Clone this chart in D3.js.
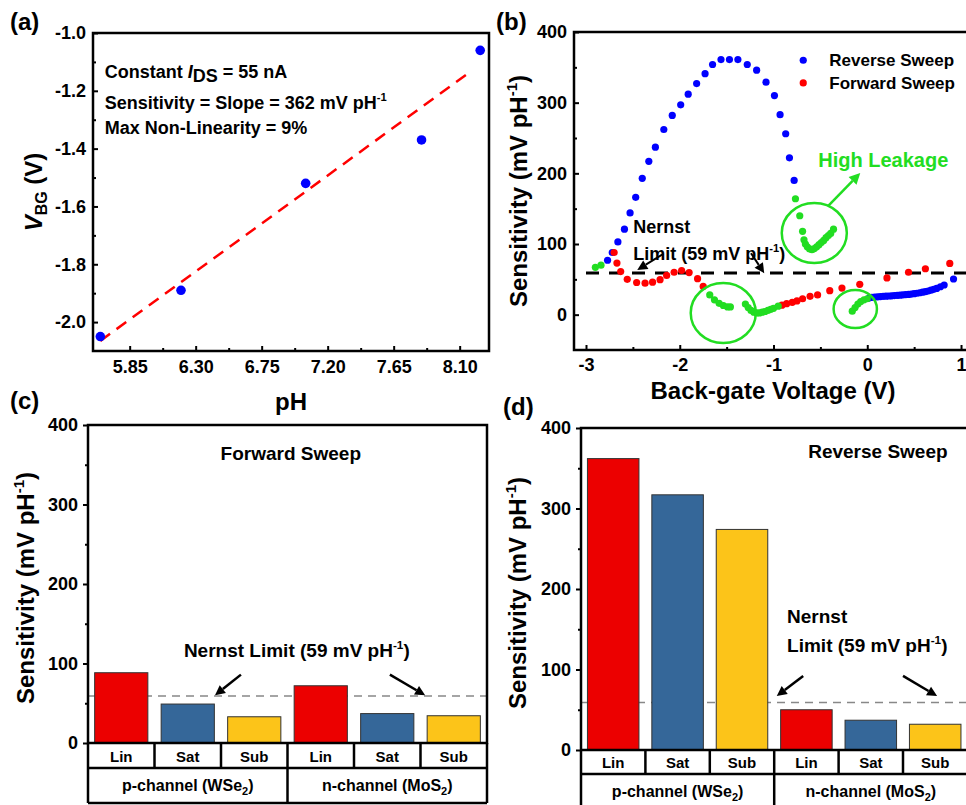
<!DOCTYPE html>
<html>
<head>
<meta charset="utf-8">
<script src="https://cdn.jsdelivr.net/npm/d3@7"></script>
<style>
  body { margin: 0; background: #fff; }
  svg text { font-family: "Liberation Sans", Arial, Helvetica, sans-serif; font-weight: bold; }
</style>
</head>
<body>
<div id="chart"></div>
<script>
// ---------- data: panel (a) ----------
const phValues = [5.65, 6.20, 7.05, 7.84, 8.24];
const vbgValues = [-2.05, -1.89, -1.52, -1.37, -1.06];
const fitPH = [5.65, 8.17];
const fitVBG = [-2.065, -1.135];
const phTicks = [5.85, 6.30, 6.75, 7.20, 7.65, 8.10];
const vbgTicks = [-2.0, -1.8, -1.6, -1.4, -1.2, -1.0];

// ---------- data: panel (b) ----------
const reverseSweep = [
  [-2.77, 77], [-2.72, 88], [-2.66, 103], [-2.59, 121], [-2.53, 144], [-2.47, 166],
  [-2.40, 193], [-2.33, 217], [-2.26, 237], [-2.17, 262], [-2.08, 282], [-1.99, 297],
  [-1.91, 312], [-1.82, 327], [-1.73, 341], [-1.65, 354], [-1.56, 361], [-1.47, 361],
  [-1.38, 361], [-1.28, 354], [-1.18, 346], [-1.08, 329], [-0.99, 310], [-0.93, 283],
  [-0.87, 256], [-0.83, 222], [-0.78, 190],
  [0.02, 23.5], [0.05, 24.5], [0.08, 25], [0.11, 25.3], [0.14, 25.6], [0.17, 26],
  [0.20, 26.2], [0.23, 26.4], [0.26, 26.7], [0.29, 27], [0.32, 27.3], [0.35, 27.6],
  [0.38, 28], [0.41, 28.3], [0.44, 28.7], [0.47, 29.2], [0.50, 29.7], [0.53, 30.3],
  [0.56, 31], [0.59, 31.8], [0.62, 32.6], [0.65, 33.5], [0.68, 34.6], [0.71, 35.8],
  [0.74, 37.2], [0.78, 39.5], [0.82, 42], [0.92, 50.5]
];
const forwardSweep = [
  [-2.70, 88], [-2.67, 73], [-2.63, 61], [-2.56, 50], [-2.46, 45.5], [-2.37, 44.5],
  [-2.29, 46], [-2.21, 49.5], [-2.14, 55.5], [-2.06, 60], [-1.98, 62.5], [-1.90, 59.5],
  [-1.81, 51], [-1.75, 40],
  [-0.91, 13.5], [-0.86, 15.5], [-0.80, 17.5], [-0.75, 19.5], [-0.69, 22.5], [-0.61, 26],
  [-0.53, 28], [-0.40, 34], [-0.27, 37.7], [-0.08, 43], [0.21, 52], [0.44, 60],
  [0.62, 65], [0.88, 72.5]
];
const leakagePoints = [
  [-2.90, 67], [-2.84, 70],
  [-0.766, 164], [-0.72, 140], [-0.69, 118], [-0.675, 106], [-0.66, 100], [-0.64, 96],
  [-0.615, 93], [-0.59, 92], [-0.565, 93.5], [-0.54, 96], [-0.515, 99], [-0.49, 102],
  [-0.465, 105], [-0.44, 109], [-0.415, 112], [-0.39, 115], [-0.36, 121],
  [-1.68, 28], [-1.63, 21], [-1.58, 16], [-1.535, 13], [-1.49, 11], [-1.46, 11],
  [-1.30, 15], [-1.27, 10], [-1.24, 6], [-1.21, 3.5], [-1.18, 2.5], [-1.15, 2.5],
  [-1.12, 3.5], [-1.09, 4.5], [-1.06, 6], [-1.03, 7.5], [-1.00, 9], [-0.95, 12],
  [-0.16, 5], [-0.13, 10], [-0.10, 15], [-0.07, 18.5], [-0.035, 21], [0.0, 22.5]
];
const voltTicks = [-3, -2, -1, 0, 1];
const sensTicksB = [0, 100, 200, 300, 400];
const nernstLimit = 59;
// leakage circles: centre voltage, centre sensitivity, half-width (V), half-height (mV/pH)
const leakCircles = [[-0.565, 115.6, 0.347, 42.5], [-1.536, 2.4, 0.347, 42.5], [-0.128, 8, 0.231, 27]];

// ---------- data: panels (c) and (d) ----------
const regimes = ['Lin', 'Sat', 'Sub'];
const channels = [['p-channel (WSe', '2', ')'], ['n-channel (MoS', '2', ')']];
const forwardBars = [88.4, 49, 33, 72, 37, 34.3];
const reverseBars = [362, 317, 274, 50, 37, 32];
const barTicks = [0, 100, 200, 300, 400];
const barColors = ['#ec0000', '#356799', '#fcc419'];

const blue = '#0000ff', red = '#ff0000', green = '#22dd22';

const svg = d3.select('#chart').append('svg')
  .attr('width', 966)
  .attr('height', 805);

// ---------- helpers ----------
function txt(g, x, y, size, anchor, fill) {
  return g.append('text').attr('x', x).attr('y', y)
    .attr('font-size', size)
    .attr('text-anchor', anchor || 'start')
    .attr('fill', fill || '#000');
}
function sensLabel(g, x, y) {
  const t = txt(g, 0, 0, 24, 'middle').attr('transform', `translate(${x},${y}) rotate(-90)`);
  t.append('tspan').text('Sensitivity (mV pH');
  t.append('tspan').attr('font-size', 15).attr('dy', -10).text('-1');
  t.append('tspan').attr('dy', 10).text(')');
}
function supText(t, base, size, after) {
  t.append('tspan').text(base);
  t.append('tspan').attr('font-size', size * 0.62).attr('dy', -size * 0.42).text('-1');
  t.append('tspan').attr('dy', size * 0.42).text(after);
}
function arrow(g, x1, y1, x2, y2, color, w, head) {
  const ang = Math.atan2(y2 - y1, x2 - x1);
  const hx = x2 - head * Math.cos(ang), hy = y2 - head * Math.sin(ang);
  g.append('line').attr('x1', x1).attr('y1', y1).attr('x2', hx).attr('y2', hy)
    .attr('stroke', color).attr('stroke-width', w);
  const hw = head * 0.5;
  const pts = [[x2, y2],
    [hx + hw * Math.sin(ang), hy - hw * Math.cos(ang)],
    [hx - hw * Math.sin(ang), hy + hw * Math.cos(ang)]];
  g.append('polygon').attr('points', pts.map(p => p.join(',')).join(' ')).attr('fill', color);
}
function styleAxis(a, size) {
  a.select('.domain').remove();
  a.selectAll('line').attr('stroke', '#000').attr('stroke-width', 2);
  a.selectAll('text').attr('font-size', size).attr('fill', '#000')
    .attr('font-family', '"Liberation Sans", Arial, sans-serif').attr('font-weight', 'bold');
  return a;
}
function mids(arr) {
  return arr.slice(1).map((d, i) => (d + arr[i]) / 2);
}

// =============== panel (a) ===============
const gA = svg.append('g');
const xA = d3.scaleLinear().domain([5.6, 8.3]).range([93, 489]);
const yA = d3.scaleLinear().domain([-2.1, -1.0]).range([351, 33]);

styleAxis(gA.append('g').attr('transform', 'translate(0,351)')
  .call(d3.axisBottom(xA).tickValues(phTicks).tickSizeInner(-5).tickSizeOuter(0)
    .tickPadding(9).tickFormat(d => d.toFixed(2))), 18);
styleAxis(gA.append('g').attr('transform', 'translate(0,351)')
  .call(d3.axisBottom(xA).tickValues(mids(phTicks)).tickSizeInner(-3).tickSizeOuter(0).tickFormat('')), 18);
styleAxis(gA.append('g').attr('transform', 'translate(93,0)')
  .call(d3.axisLeft(yA).tickValues(vbgTicks).tickSizeInner(-5).tickSizeOuter(0)
    .tickPadding(7).tickFormat(d => d.toFixed(1))), 18);
styleAxis(gA.append('g').attr('transform', 'translate(93,0)')
  .call(d3.axisLeft(yA).tickValues(mids(vbgTicks)).tickSizeInner(-3).tickSizeOuter(0).tickFormat('')), 18);

gA.append('path')
  .datum(fitPH.map((p, i) => [p, fitVBG[i]]))
  .attr('d', d3.line().x(d => xA(d[0])).y(d => yA(d[1])))
  .attr('stroke', red).attr('stroke-width', 2.5).attr('stroke-dasharray', '12,8').attr('fill', 'none');

gA.selectAll('circle.pt')
  .data(phValues)
  .enter()
  .append('circle')
  .attr('cx', d => xA(d))
  .attr('cy', (d, i) => yA(vbgValues[i]))
  .attr('r', 4.8)
  .attr('fill', blue);

gA.append('rect').attr('x', 93).attr('y', 33).attr('width', 396).attr('height', 318)
  .attr('fill', 'none').attr('stroke', '#000').attr('stroke-width', 2.5);

// annotations
let t = txt(gA, xA(5.68), yA(-1.156), 18);
t.append('tspan').text('Constant ');
t.append('tspan').attr('font-style', 'italic').text('I');
t.append('tspan').attr('dy', 4).text('DS');
t.append('tspan').attr('dy', -4).text(' = 55 nA');
supText(txt(gA, xA(5.68), yA(-1.263), 18), 'Sensitivity = Slope = 362 mV pH', 18, '');
txt(gA, xA(5.68), yA(-1.35), 18).text('Max Non-Linearity = 9%');

t = txt(gA, 0, 0, 24, 'middle').attr('transform', `translate(42,${yA(-1.55)}) rotate(-90)`);
t.append('tspan').attr('font-style', 'italic').text('V');
t.append('tspan').attr('font-size', 16).attr('dy', 5).text('BG');
t.append('tspan').attr('dy', -5).text(' (V)');
txt(gA, xA(6.95), 410, 24, 'middle').text('pH');
txt(gA, 10, 30, 24).text('(a)');

// =============== panel (b) ===============
const gB = svg.append('g');
const xB = d3.scaleLinear().domain([-3.128, 1.1]).range([574, 970.4]);
const yB = d3.scaleLinear().domain([-50, 400]).range([350, 32]);

styleAxis(gB.append('g').attr('transform', 'translate(0,350)')
  .call(d3.axisBottom(xB).tickValues(voltTicks).tickSizeInner(-5).tickSizeOuter(0)
    .tickPadding(8).tickFormat(d => String(d))), 18);
styleAxis(gB.append('g').attr('transform', 'translate(0,350)')
  .call(d3.axisBottom(xB).tickValues(mids(voltTicks)).tickSizeInner(-3).tickSizeOuter(0).tickFormat('')), 18);
styleAxis(gB.append('g').attr('transform', 'translate(574,0)')
  .call(d3.axisLeft(yB).tickValues(sensTicksB).tickSizeInner(-5).tickSizeOuter(0).tickPadding(7)), 18);
styleAxis(gB.append('g').attr('transform', 'translate(574,0)')
  .call(d3.axisLeft(yB).tickValues(mids(sensTicksB)).tickSizeInner(-3).tickSizeOuter(0).tickFormat('')), 18);

// Nernst limit line
gB.append('line')
  .attr('x1', xB(-3)).attr('x2', 966)
  .attr('y1', yB(nernstLimit)).attr('y2', yB(nernstLimit))
  .attr('stroke', '#000').attr('stroke-width', 3).attr('stroke-dasharray', '13,10');

const sweeps = [[reverseSweep, blue], [forwardSweep, red], [leakagePoints, green]];
sweeps.forEach(([pts, col]) => {
  gB.append('g').selectAll('circle')
    .data(pts)
    .enter()
    .append('circle')
    .attr('cx', d => xB(d[0]))
    .attr('cy', d => yB(d[1]))
    .attr('r', 3.6)
    .attr('fill', col);
});

// leakage circles
gB.selectAll('ellipse')
  .data(leakCircles)
  .enter()
  .append('ellipse')
  .attr('cx', d => xB(d[0]))
  .attr('cy', d => yB(d[1]))
  .attr('rx', d => xB(d[2]) - xB(0))
  .attr('ry', d => yB(0) - yB(d[3]))
  .attr('fill', 'none').attr('stroke', green).attr('stroke-width', 2.5);

arrow(gB, xB(-0.416), yB(153.8), xB(-0.075), yB(200.5), green, 2.5, 11);
txt(gB, xB(-0.523), yB(209), 20, 'start', green).text('High Leakage');

txt(gB, xB(-2.496), yB(115.5), 18).text('Nernst');
supText(txt(gB, xB(-2.496), yB(77.4), 18), 'Limit (59 mV pH', 18, ')');
arrow(gB, xB(-2.176), yB(85.9), xB(-2.453), yB(63.3), '#000', 2, 10);
arrow(gB, xB(-1.24), yB(87), xB(-1.099), yB(58.6), '#000', 2, 10);

// legend
const legendItems = [['Reverse Sweep', blue, 360], ['Forward Sweep', red, 328]];
legendItems.forEach(([name, col, s]) => {
  gB.append('circle').attr('cx', xB(-0.683)).attr('cy', yB(s)).attr('r', 3.6).attr('fill', col);
  txt(gB, xB(-0.405), yB(s), 17).attr('dy', '0.36em').text(name);
});

gB.append('rect').attr('x', 574).attr('y', 32).attr('width', 400).attr('height', 318)
  .attr('fill', 'none').attr('stroke', '#000').attr('stroke-width', 2.5);

sensLabel(gB, 527, 191);
txt(gB, 773, 399, 24, 'middle').text('Back-gate Voltage (V)');
txt(gB, 496, 30, 24).text('(b)');

// =============== panels (c) and (d) ===============
function barPanel(o) {
  const g = svg.append('g');
  const x = d3.scaleBand().domain(d3.range(6)).range([o.x0, o.x1]).paddingInner(0.2).paddingOuter(0.1);
  const slot = d3.scaleLinear().domain([0, 6]).range([o.x0, o.x1]);
  const y = d3.scaleLinear().domain([0, 400]).range([o.yZero, o.yTop]);

  styleAxis(g.append('g').attr('transform', `translate(${o.x0},0)`)
    .call(d3.axisLeft(y).tickValues(barTicks).tickSizeInner(5).tickSizeOuter(0).tickPadding(5)), 18);
  styleAxis(g.append('g').attr('transform', `translate(${o.x0},0)`)
    .call(d3.axisLeft(y).tickValues(mids(barTicks)).tickSizeInner(3).tickSizeOuter(0).tickFormat('')), 18);

  g.append('line')
    .attr('x1', o.x0).attr('x2', o.x1)
    .attr('y1', y(nernstLimit)).attr('y2', y(nernstLimit))
    .attr('stroke', '#888').attr('stroke-width', 1.5).attr('stroke-dasharray', '8,6');

  g.selectAll('rect.bar')
    .data(o.values)
    .enter()
    .append('rect')
    .attr('x', (d, i) => x(i))
    .attr('y', d => y(d))
    .attr('width', x.bandwidth())
    .attr('height', d => y(0) - y(d))
    .attr('fill', (d, i) => barColors[i % 3])
    .attr('stroke', '#333')
    .attr('stroke-width', 1);

  g.append('rect').attr('x', o.x0).attr('y', o.yTop).attr('width', o.x1 - o.x0).attr('height', o.yZero - o.yTop)
    .attr('fill', 'none').attr('stroke', '#000').attr('stroke-width', 2.5);

  // category table
  const line = (x1, y1, x2, y2) => g.append('line').attr('x1', x1).attr('y1', y1).attr('x2', x2).attr('y2', y2)
    .attr('stroke', '#000').attr('stroke-width', 2.5);
  line(o.x0, o.row1, o.x1, o.row1);
  line(o.x0, o.row2, o.x1, o.row2);
  d3.range(7).forEach(i => line(slot(i), o.yZero, slot(i), o.row1));
  [0, 3, 6].forEach(i => line(slot(i), o.row1, slot(i), o.row2));
  d3.range(6).forEach(i => txt(g, slot(i + 0.5), o.row1 - 6, 15, 'middle').text(regimes[i % 3]));
  channels.forEach((c, i) => {
    const tt = txt(g, slot(i * 3 + 1.5), o.row1 + 23, 16, 'middle');
    tt.append('tspan').text(c[0]);
    tt.append('tspan').attr('font-size', 11).attr('dy', 4).text(c[1]);
    tt.append('tspan').attr('dy', -4).text(c[2]);
  });

  o.annotate(g, slot, y);
  sensLabel(g, o.labelX, (o.yTop + o.yZero) / 2 + 4);
  txt(g, o.tagX, o.tagY, 24).text(o.tag);
}

barPanel({
  x0: 88, x1: 487, yTop: 425, yZero: 743, row1: 768, row2: 803,
  values: forwardBars, labelX: 34, tag: '(c)', tagX: 10, tagY: 409,
  annotate: (g, slot, y) => {
    txt(g, slot(3.05), y(356), 19, 'middle').text('Forward Sweep');
    supText(txt(g, slot(3.14), y(108), 19, 'middle'), 'Nernst Limit (59 mV pH', 19, ')');
    arrow(g, slot(2.30), y(86), slot(1.91), y(60), '#000', 2.5, 10);
    arrow(g, slot(4.54), y(86), slot(5.07), y(60), '#000', 2.5, 10);
  }
});

barPanel({
  x0: 581, x1: 967.4, yTop: 428, yZero: 750, row1: 774, row2: 808,
  values: reverseBars, labelX: 526, tag: '(d)', tagX: 503, tagY: 415,
  annotate: (g, slot, y) => {
    txt(g, slot(4.61), y(363), 19, 'middle').text('Reverse Sweep');
    txt(g, slot(3.2), y(158), 19).text('Nernst');
    supText(txt(g, slot(3.2), y(122), 19), 'Limit (59 mV pH', 19, ')');
    arrow(g, slot(3.45), y(92), slot(3.04), y(67), '#000', 2.5, 10);
    arrow(g, slot(5.0), y(92), slot(5.53), y(67), '#000', 2.5, 10);
  }
});
</script>
</body>
</html>
